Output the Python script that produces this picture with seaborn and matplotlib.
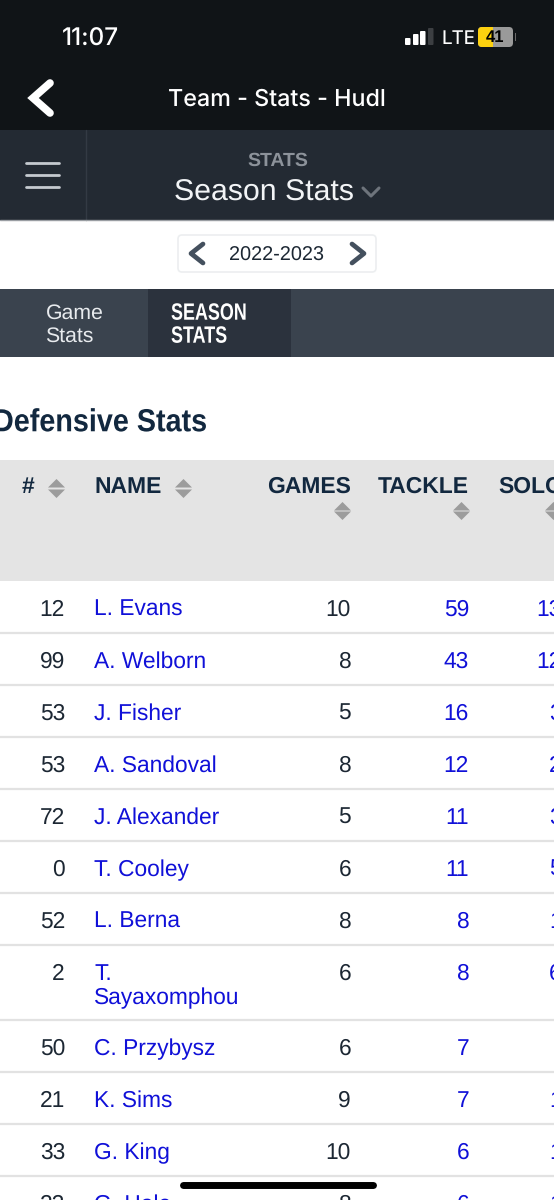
import seaborn as sns
import matplotlib.pyplot as plt
import matplotlib.patheffects as pe
from matplotlib.patches import FancyBboxPatch, Rectangle
from matplotlib.path import Path
from matplotlib.transforms import Affine2D
import pandas as pd

# table values
numbers = ["12", "99", "53", "53", "72", "0", "52", "2", "50", "21", "33", "22"]
names = ["L. Evans", "A. Welborn", "J. Fisher", "A. Sandoval", "J. Alexander", "T. Cooley",
         "L. Berna", "T.\nSayaxomphou", "C. Przybysz", "K. Sims", "G. King", "G. Hale"]
games = [10, 8, 5, 8, 5, 6, 8, 6, 6, 9, 10, 8]
tackles = [59, 43, 16, 12, 11, 11, 8, 8, 7, 7, 6, 6]
solo = ["13", "12", "3", "2", "3", "5", "1", "6", "", "1", "1", "1"]
row_height = [52, 52, 52, 52, 52, 52, 52, 75, 52, 52, 52, 52]
headers = ["#", "NAME", "GAMES", "TACKLE", "SOLO"]
arrow_x = [56, 182.5, 342, 461, 553]
arrow_y = [488, 488, 510.5, 510.5, 510.5]
signal_left = [405, 413, 420, 428]
signal_top = [38, 34, 31, 28]

sns.set_theme(style="white")
plt.rcParams['font.family'] = ['Liberation Sans', 'DejaVu Sans']
plt.rcParams['text.hinting'] = 'none'


# the app uses a condensed face, so squeeze the real text sideways while drawing
class Squeeze(pe.AbstractPathEffect):
    def __init__(self, sx):
        super().__init__()
        self.sx = sx

    def draw_path(self, renderer, gc, tpath, affine, rgbFace=None):
        renderer.draw_path(gc, tpath, Affine2D().scale(self.sx, 1) + affine, rgbFace)


df = pd.DataFrame({"number": numbers, "name": names, "games": games, "tackles": tackles,
                   "solo": solo, "height": row_height})
df["top"] = df["height"].cumsum().shift(fill_value=0) + 581
df["bottom"] = df["top"] + df["height"]

fig = plt.figure(figsize=(5.54, 12), dpi=100)
ax = fig.add_axes([0, 0, 1, 1])

DARK = "#101417"
NAV = "#232a33"
TAB = "#3a434e"
INK = "#1c2733"
BLUE = "#1010d8"
GREY = "#e4e4e4"
TITLE = "#12283f"
ARROW = "#9c9c9c"

# sort arrows, wide flat triangles sitting back to back
up = Path([(-1, 0), (1, 0), (0, 1), (-1, 0)], closed=True)
down = Path([(-1, 0), (1, 0), (0, -1), (-1, 0)], closed=True)
sns.scatterplot(x=arrow_x, y=[y - 0.7 for y in arrow_y], marker=up, s=150, color=ARROW, linewidth=0, ax=ax, legend=False, zorder=3)
sns.scatterplot(x=arrow_x, y=[y + 0.7 for y in arrow_y], marker=down, s=150, color=ARROW, linewidth=0, ax=ax, legend=False, zorder=3)

# table row rules
rules = pd.DataFrame({"x": [0, 554] * len(df), "y": df["bottom"].repeat(2).values, "row": df.index.repeat(2)})
sns.lineplot(data=rules, x="x", y="y", units="row", estimator=None, color="#e2e2e2", lw=1.6, ax=ax, legend=False)

ax.set_xlim(0, 554)
ax.set_ylim(1200, 0)
ax.axis("off")

# page bands
ax.fill_between([0, 554], 0, 130, color=DARK, lw=0)
ax.fill_between([0, 554], 130, 220, color=NAV, lw=0)
ax.fill_between([0, 554], 289, 357, color=TAB, lw=0)
ax.fill_between([148, 291], 289, 357, color="#2b323d", lw=0)
ax.fill_between([0, 554], 460, 581, color=GREY, lw=0)
ax.plot([86, 86], [130, 220], color="#333a44", lw=1)
ax.plot([0, 554], [220, 220], color="#9a9ea3", lw=1)

# status bar
ax.text(62, 39, "11:07", color="white", fontsize=17.5, va="center", family="Inter", weight="medium")
ax.text(441, 39, "LTE", color="white", fontsize=13.5, va="center", family="Inter")
for i, (x, t) in enumerate(zip(signal_left, signal_top)):
    ax.add_patch(FancyBboxPatch((x + 1, t + 1), 3.5, 45 - t - 2, boxstyle="round,pad=1", lw=0,
                                fc="#3c3f42" if i == 3 else "white"))
batt = FancyBboxPatch((482, 31), 27, 12, boxstyle="round,pad=4", fc="#9a9a9a", lw=0)
ax.add_patch(batt)
fill = FancyBboxPatch((482, 31), 27, 12, boxstyle="round,pad=4", fc="#fdd10f", lw=0)
ax.add_patch(fill)
fill.set_clip_path(Rectangle((478, 27), 15, 20, transform=ax.transData))
ax.add_patch(Rectangle((514.5, 33), 1.5, 8, fc="#6a6a6a", lw=0))
ax.text(495.5, 37.5, "41", color="black", fontsize=12, va="center", ha="center", weight="bold")

# title bar
ax.plot([50, 33, 50], [83, 98, 113], color="white", lw=5.5, solid_joinstyle="miter")
ax.text(277, 100, "Team - Stats - Hudl", color="white", fontsize=16.8, ha="center", va="center", family="Inter", weight="medium")
for y in [163, 175, 187]:
    ax.plot([26, 59], [y, y], color="#c5cad0", lw=2)
ax.text(277.5, 161, "STATS", color="#8c929a", fontsize=14, ha="center", va="center", weight="bold")
ax.text(263.5, 193, "Season Stats", color="#f2f4f6", fontsize=21.8, ha="center", va="center")
ax.plot([363, 371, 379], [188, 196, 188], color="#6e747c", lw=2.2)

# season selector
ax.add_patch(FancyBboxPatch((182, 239), 190, 29, boxstyle="round,pad=4", fc="white", ec="#eceef0", lw=1.2))
ax.plot([203, 191, 203], [244, 253.5, 263], color="#44505e", lw=3.4)
ax.plot([352, 364, 352], [244, 253.5, 263], color="#44505e", lw=3.4)
ax.text(277, 255.5, "2022-2023", color=INK, fontsize=14.3, ha="center", va="center")

# tabs
ax.text(45.5, 313.5, "Game", color="#e8ebee", fontsize=15.3, va="center")
ax.text(45.5, 336.5, "Stats", color="#e8ebee", fontsize=15.3, va="center")
for y, label in zip([313.5, 336.5], ["SEASON", "STATS"]):
    ax.text(171, y, label, color="white", fontsize=17, va="center", weight="bold",
            path_effects=[Squeeze(0.76)])

ax.text(-7, 423, "Defensive Stats", color=TITLE, fontsize=23, va="center", weight="bold",
        path_effects=[Squeeze(0.9)])

# table header
ax.text(22, 487, headers[0], color=TITLE, fontsize=16.5, va="center", weight="bold")
ax.text(94, 487, headers[1], color=TITLE, fontsize=16.5, va="center", weight="bold")
ax.text(351, 487, headers[2], color=TITLE, fontsize=16.5, va="center", ha="right", weight="bold")
ax.text(469, 487, headers[3], color=TITLE, fontsize=16.5, va="center", ha="right", weight="bold")
ax.text(498, 487, headers[4], color=TITLE, fontsize=16.5, va="center", weight="bold")

# table rows
for _, r in df.iterrows():
    mid = r["top"] + 29
    ax.text(65, mid, r["number"], color=INK, fontsize=16.4, ha="right", va="center")
    if "\n" in r["name"]:
        first, second = r["name"].split("\n")
        ax.text(94, mid, first, color=BLUE, fontsize=16.4, va="center")
        ax.text(94, mid + 24, second, color=BLUE, fontsize=16.4, va="center")
    else:
        ax.text(94, mid, r["name"], color=BLUE, fontsize=16.4, va="center")
    ax.text(351, mid, str(r["games"]), color=INK, fontsize=16.4, ha="right", va="center")
    ax.text(469, mid, str(r["tackles"]), color=BLUE, fontsize=16.4, ha="right", va="center")
    ax.text(562, mid, r["solo"], color=BLUE, fontsize=16.4, ha="right", va="center")

# home indicator
ax.plot([182.5, 372.5], [1185, 1185], color="black", lw=5, solid_capstyle="round")

fig.savefig("out.png", dpi=100)
